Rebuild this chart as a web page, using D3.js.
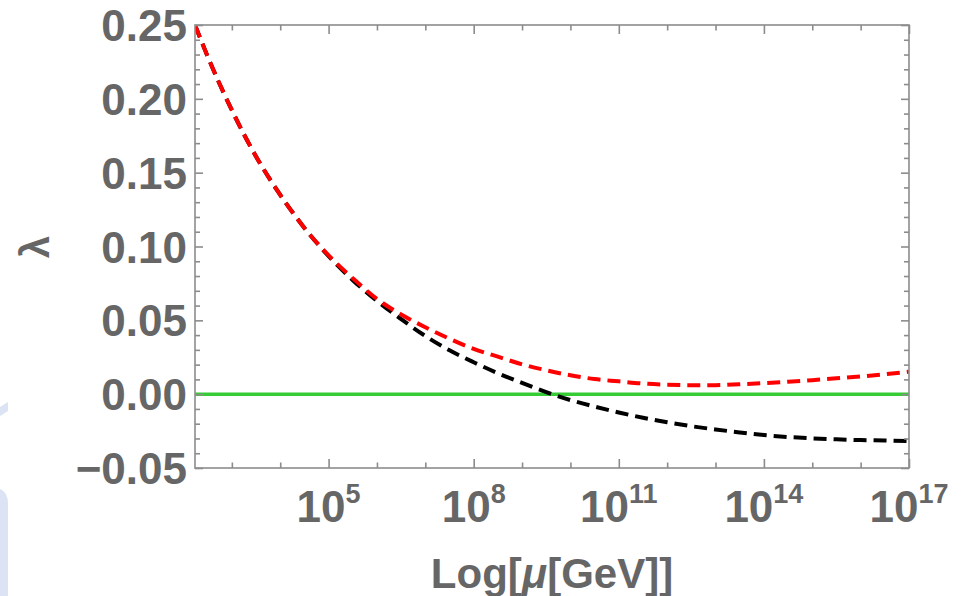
<!DOCTYPE html>
<html>
<head>
<meta charset="utf-8">
<script src="https://cdn.jsdelivr.net/npm/d3@7"></script>
<style>
  html, body { margin: 0; padding: 0; background: #fff; }
  svg { display: block; }
  text { font-family: "Liberation Sans", Arial, sans-serif; font-weight: bold; fill: #666; }
</style>
</head>
<body>
<svg id="chart" width="979" height="596"></svg>
<script>
// Running quartic coupling λ(μ) versus log10 of the scale μ (GeV)
const log10Mu = [2.238, 2.5, 3, 3.5, 4, 4.5, 5, 5.5, 6, 6.5, 7, 7.5, 8, 8.5, 9, 9.5,
                 10, 10.5, 11, 11.5, 12, 12.5, 13, 13.5, 14, 14.5, 15, 15.5, 16, 16.5, 17];

// red dashed curve
const lambdaRed = [0.250, 0.2287, 0.1923, 0.161, 0.135, 0.1126, 0.094, 0.0785, 0.0645, 0.054,
                   0.0453, 0.0375, 0.0306, 0.0254, 0.0202, 0.0162, 0.0128, 0.0102, 0.0087,
                   0.0072, 0.0064, 0.0061, 0.0061, 0.0067, 0.0075, 0.0084, 0.0095, 0.0107,
                   0.0120, 0.0135, 0.0152];

// black dashed curve
const lambdaBlack = [0.250, 0.2287, 0.1923, 0.161, 0.135, 0.1126, 0.0935, 0.0772, 0.0632, 0.0508,
                     0.0394, 0.0297, 0.0216, 0.0142, 0.0076, 0.0014, -0.0040, -0.0084, -0.0124,
                     -0.0160, -0.0190, -0.0217, -0.0239, -0.0259, -0.0277, -0.0290, -0.0299,
                     -0.0306, -0.0311, -0.0314, -0.0317];

// green reference line
const lambdaZero = [0, 0];
const zeroLog10Mu = [2.238, 17];

const xMajorExp = [5, 8, 11, 14, 17];
const xMinorExp = [3, 4, 6, 7, 9, 10, 12, 13, 15, 16];
const yMajor = [-0.05, 0, 0.05, 0.10, 0.15, 0.20, 0.25];
const yMinor = [-0.04, -0.03, -0.02, -0.01, 0.01, 0.02, 0.03, 0.04, 0.06, 0.07, 0.08, 0.09,
                0.11, 0.12, 0.13, 0.14, 0.16, 0.17, 0.18, 0.19, 0.21, 0.22, 0.23, 0.24];
const yLabel = "λ";

const svg = d3.select("#chart");
const L = 195, R = 909, T = 25, B = 468;

const x = d3.scaleLog().domain([Math.pow(10, 2.238), 1e17]).range([L, R]);
const y = d3.scaleLinear().domain([-0.05, 0.25]).range([B, T]);

// background decoration at the left edge
svg.append("path")
  .attr("d", "M0,407 L8,402 L8,411 L0,416 Z")
  .attr("fill", "#dbe3f4");
svg.append("path")
  .attr("d", "M0,489 Q8,492 8,504 L8,596 L0,596 Z")
  .attr("fill", "#dbe3f4");

// clip region for the curves
svg.append("defs").append("clipPath").attr("id", "plotClip")
  .append("rect").attr("x", L).attr("y", T).attr("width", R - L).attr("height", B - T);

const plot = svg.append("g").attr("clip-path", "url(#plotClip)");

const line = d3.line()
  .x(d => x(Math.pow(10, d[0])))
  .y(d => y(d[1]))
  .curve(d3.curveMonotoneX);

plot.append("path")
  .datum(zeroLog10Mu.map((v, i) => [v, lambdaZero[i]]))
  .attr("d", line)
  .attr("fill", "none")
  .attr("stroke", "#36cc36")
  .attr("stroke-width", 3.5);

plot.append("path")
  .datum(log10Mu.map((v, i) => [v, lambdaBlack[i]]))
  .attr("d", line)
  .attr("fill", "none")
  .attr("stroke", "#000")
  .attr("stroke-width", 4)
  .attr("stroke-dasharray", "13,7");

plot.append("path")
  .datum(log10Mu.map((v, i) => [v, lambdaRed[i]]))
  .attr("d", line)
  .attr("fill", "none")
  .attr("stroke", "#ff0000")
  .attr("stroke-width", 4)
  .attr("stroke-dasharray", "13,7");

// frame
svg.append("rect")
  .attr("x", L).attr("y", T).attr("width", R - L).attr("height", B - T)
  .attr("fill", "none").attr("stroke", "#8c8c8c").attr("stroke-width", 1.6);

// inward ticks on all four sides
function tickAxis(gen, transform) {
  const g = svg.append("g").attr("transform", transform).call(gen);
  g.select(".domain").remove();
  g.selectAll(".tick line").attr("stroke", "#8c8c8c").attr("stroke-width", 1.6);
  g.selectAll(".tick text").remove();
  return g;
}
const xMaj = xMajorExp.map(e => Math.pow(10, e));
const xMin = xMinorExp.map(e => Math.pow(10, e));

tickAxis(d3.axisBottom(x).tickValues(xMaj).tickSize(-9).tickFormat(""), `translate(0,${B})`);
tickAxis(d3.axisBottom(x).tickValues(xMin).tickSize(-5.5).tickFormat(""), `translate(0,${B})`);
tickAxis(d3.axisTop(x).tickValues(xMaj).tickSize(-9).tickFormat(""), `translate(0,${T})`);
tickAxis(d3.axisTop(x).tickValues(xMin).tickSize(-5.5).tickFormat(""), `translate(0,${T})`);
tickAxis(d3.axisLeft(y).tickValues(yMajor).tickSize(-8).tickFormat(""), `translate(${L},0)`);
tickAxis(d3.axisLeft(y).tickValues(yMinor).tickSize(-5).tickFormat(""), `translate(${L},0)`);
tickAxis(d3.axisRight(y).tickValues(yMajor).tickSize(-8).tickFormat(""), `translate(${R},0)`);
tickAxis(d3.axisRight(y).tickValues(yMinor).tickSize(-5).tickFormat(""), `translate(${R},0)`);

// y tick labels
const fmtY = d3.format(".2f");
svg.append("g").selectAll("text")
  .data(yMajor)
  .join("text")
  .attr("x", 187)
  .attr("y", d => y(d) + 16)
  .attr("text-anchor", "end")
  .attr("font-size", 44)
  .text(d => fmtY(d).replace("-", "\u2212"));

// x tick labels as powers of ten
const xt = svg.append("g").selectAll("text")
  .data(xMajorExp)
  .join("text")
  .attr("x", d => x(Math.pow(10, d)))
  .attr("y", 522)
  .attr("text-anchor", "middle")
  .attr("font-size", 44);
xt.append("tspan").text("10");
xt.append("tspan").attr("dy", -19).attr("font-size", 27).text(d => d);

// axis titles
const xl = svg.append("text")
  .attr("x", (L + R) / 2)
  .attr("y", 588)
  .attr("text-anchor", "middle")
  .attr("font-size", 42);
xl.append("tspan").text("Log[");
xl.append("tspan").attr("font-style", "italic").text("μ");
xl.append("tspan").text("[GeV]]");

svg.append("text")
  .attr("transform", "translate(49,247) rotate(-90)")
  .attr("text-anchor", "middle")
  .attr("font-size", 40)
  .text(yLabel);
</script>
</body>
</html>
